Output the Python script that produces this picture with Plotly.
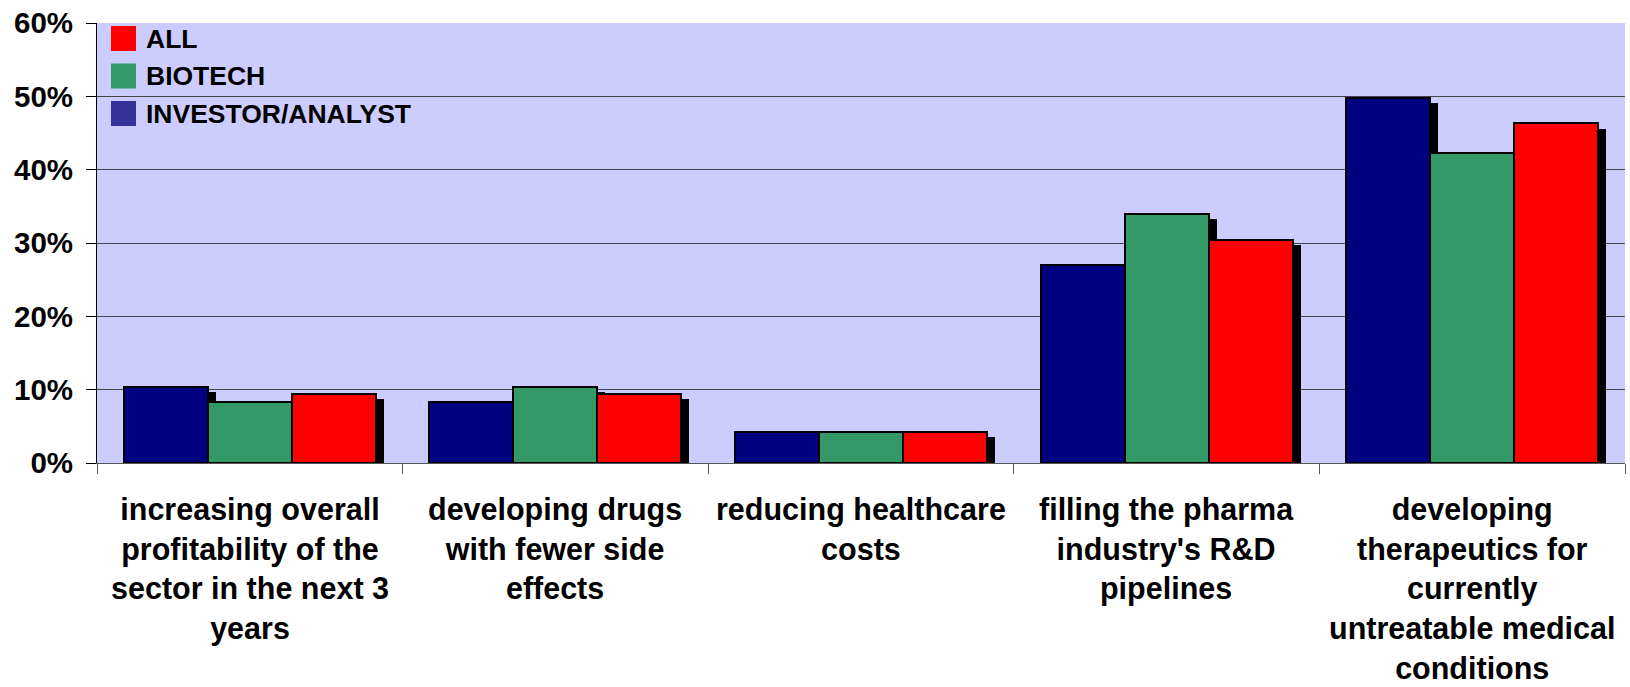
import plotly.graph_objects as go

# Survey results: share of respondents per segment (percent)
categories = [
    "increasing overall<br>profitability of the<br>sector in the next 3<br>years",
    "developing drugs<br>with fewer side<br>effects",
    "reducing healthcare<br>costs",
    "filling the pharma<br>industry's R&D<br>pipelines",
    "developing<br>therapeutics for<br>currently<br>untreatable medical<br>conditions",
]
investor_analyst = [10.4, 8.3, 4.2, 27.0, 49.8]
biotech = [8.3, 10.4, 4.2, 34.0, 42.3]
all_resp = [9.4, 9.4, 4.2, 30.4, 46.3]
y_ticks = [0, 10, 20, 30, 40, 50, 60]
y_tick_labels = [f"{v}%" for v in y_ticks]

FONT = "Liberation Sans, Arial, sans-serif"
series = [
    ("INVESTOR/ANALYST", investor_analyst, "#000080", "#333399"),
    ("BIOTECH", biotech, "#339966", "#339966"),
    ("ALL", all_resp, "#FF0000", "#FF0000"),
]
bar_w = 0.275
offsets = [-1.5 * bar_w, -0.5 * bar_w, 0.5 * bar_w]
shadow_dx = 0.026
shadow_dy = 0.7
xs = list(range(len(categories)))

fig = go.Figure()

# drop shadows, drawn first so the bars sit on top of them
for (name, vals, col, _), off in zip(series, offsets):
    fig.add_trace(go.Bar(
        x=xs, y=[v - shadow_dy for v in vals], width=bar_w, offset=off + shadow_dx,
        marker=dict(color="black", line=dict(width=0)),
        showlegend=False, hoverinfo="skip",
    ))

for (name, vals, col, _), off in zip(series, offsets):
    fig.add_trace(go.Bar(
        x=xs, y=vals, width=bar_w, offset=off, name=name,
        marker=dict(color=col, line=dict(color="black", width=2)),
        showlegend=False,
    ))

# category labels below the axis
for i, cat in enumerate(categories):
    fig.add_annotation(
        x=i, xref="x", y=0, yref="paper", yanchor="top", yshift=-27,
        text=f"<b>{cat}</b>", showarrow=False, align="center",
        font=dict(family=FONT, size=30.5, color="black"),
    )

# legend drawn as swatches inside the plot area
plot_l, plot_r, plot_t, plot_b = 97, 1625, 23, 463
pw, ph = plot_r - plot_l, plot_b - plot_t

def px_x(p):
    return (p - plot_l) / pw

def px_y(p):
    return (plot_b - p) / ph

legend_rows = [series[2], series[1], series[0]]
for k, (name, _, _, swatch) in enumerate(legend_rows):
    top = 26 + k * 37.5
    fig.add_shape(
        type="rect", xref="paper", yref="paper",
        x0=px_x(111), x1=px_x(136), y0=px_y(top + 25), y1=px_y(top),
        fillcolor=swatch, line=dict(width=0), layer="above",
    )
    fig.add_annotation(
        x=px_x(144), xref="paper", y=px_y(top + 12.5), yref="paper",
        xanchor="left", yanchor="middle", text=f"<b>{name}</b>", showarrow=False,
        font=dict(family=FONT, size=26.5, color="black"),
    )

fig.update_layout(
    width=1630, height=687,
    margin=dict(l=plot_l, r=1630 - plot_r, t=plot_t, b=687 - plot_b),
    paper_bgcolor="white", plot_bgcolor="#CCCCFF",
    barmode="overlay", bargap=0,
    showlegend=False,
)
fig.update_xaxes(
    range=[-0.5, 4.5], tickvals=xs, ticktext=[""] * len(xs), ticks="",
    showgrid=False, zeroline=False,
    showline=True, linecolor="#555555", linewidth=1,
    minor=dict(ticks="outside", tick0=0.5, dtick=1, ticklen=10, tickcolor="#555555", tickwidth=1, showgrid=False),
)
fig.update_yaxes(
    range=[0, 60], tickvals=y_ticks, ticktext=y_tick_labels,
    ticks="outside", ticklen=10, tickcolor="black", tickwidth=1,
    ticklabelstandoff=7,
    tickfont=dict(family=FONT, size=29.5, color="black", weight="bold"),
    showgrid=True, gridcolor="#444444", gridwidth=1,
    zeroline=False, showline=True, linecolor="black", linewidth=1,
)

fig.write_html("out.html")
